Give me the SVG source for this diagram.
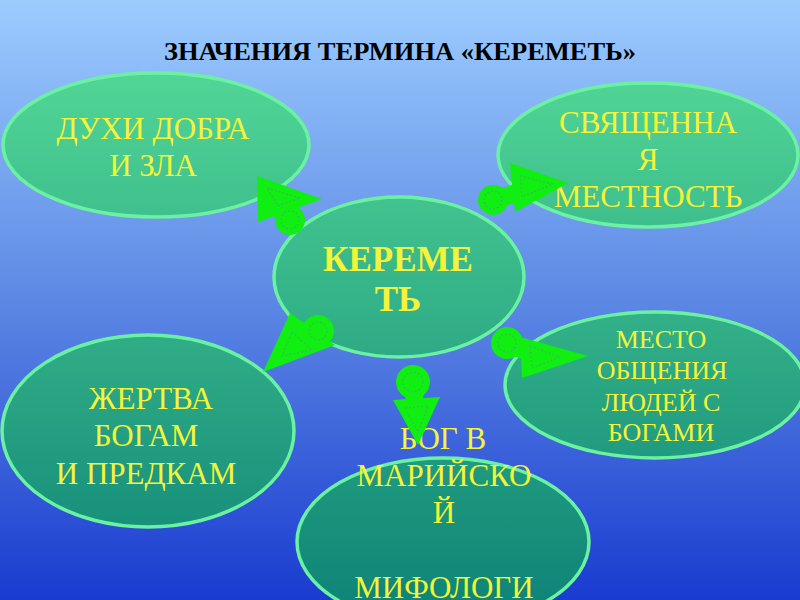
<svg xmlns="http://www.w3.org/2000/svg" width="800" height="600" viewBox="0 0 800 600">
<defs>
<linearGradient id="bg" x1="0" y1="0" x2="0" y2="1">
<stop offset="0" stop-color="#9CCCFE"/>
<stop offset="0.5" stop-color="#5C88E4"/>
<stop offset="1" stop-color="#1A3BD0"/>
</linearGradient>
<linearGradient id="eg" gradientUnits="userSpaceOnUse" x1="0" y1="70" x2="0" y2="620">
<stop offset="0" stop-color="#52D696"/>
<stop offset="1" stop-color="#0C8276"/>
</linearGradient>
<style>
.node ellipse{fill:url(#eg);stroke:#6AF2A2;stroke-width:3.5}
.t{font-family:"Liberation Serif","Times New Roman",serif;fill:#F4F43A;text-anchor:middle}
.title{font-family:"Liberation Serif","Times New Roman",serif;font-weight:bold;fill:#000;text-anchor:middle}
.pin{fill:#11EE11}
.neck{stroke:#11EE11;stroke-width:18;stroke-linecap:round}
.dash{fill:none;stroke:#30C050;stroke-width:1.2;stroke-dasharray:2 2}
</style>
</defs>
<rect width="800" height="600" fill="url(#bg)"/>
<text class="title" x="400" y="60" font-size="25" textLength="472" lengthAdjust="spacingAndGlyphs">ЗНАЧЕНИЯ ТЕРМИНА «КЕРЕМЕТЬ»</text>

<g id="node-dukhi" class="node">
<ellipse cx="156" cy="145" rx="153" ry="72"/>
<text class="t" font-size="31" x="153" y="139">ДУХИ ДОБРА</text>
<text class="t" font-size="31" x="153" y="176">И ЗЛА</text>
</g>
<g id="node-svyash" class="node">
<ellipse cx="648" cy="155" rx="150" ry="72"/>
<text class="t" font-size="31" x="648" y="133">СВЯЩЕННА</text>
<text class="t" font-size="31" x="648" y="170">Я</text>
<text class="t" font-size="31" x="648" y="207">МЕСТНОСТЬ</text>
</g>
<g id="node-keremet" class="node">
<ellipse cx="399" cy="277" rx="125" ry="80"/>
<text class="t" font-size="35" font-weight="bold" x="398" y="271">КЕРЕМЕ</text>
<text class="t" font-size="35" font-weight="bold" x="398" y="311">ТЬ</text>
</g>
<g id="node-zhertva" class="node">
<ellipse cx="148" cy="431" rx="146" ry="96"/>
<text class="t" font-size="31" x="151" y="409">ЖЕРТВА</text>
<text class="t" font-size="31" x="146" y="446">БОГАМ</text>
<text class="t" font-size="31" x="146" y="484">И ПРЕДКАМ</text>
</g>
<g id="node-mesto" class="node">
<ellipse cx="655" cy="385" rx="150" ry="73"/>
<text class="t" font-size="26" x="661" y="348">МЕСТО</text>
<text class="t" font-size="26" x="662" y="379">ОБЩЕНИЯ</text>
<text class="t" font-size="26" x="661" y="411">ЛЮДЕЙ С</text>
<text class="t" font-size="26" x="661" y="441">БОГАМИ</text>
</g>
<g id="node-bog" class="node">
<ellipse cx="443" cy="542" rx="146" ry="84"/>
<text class="t" font-size="31" x="443" y="449">БОГ В</text>
<text class="t" font-size="31" x="444" y="486">МАРИЙСКО</text>
<text class="t" font-size="31" x="444" y="523">Й</text>
<text class="t" font-size="31" x="444" y="598">МИФОЛОГИ</text>
</g>

<g id="connectors">
<g id="c1">
<line class="neck" x1="290" y1="220" x2="274" y2="203"/>
<polygon class="pin" points="257,176 322,199 258,222"/>
<circle class="pin" cx="290" cy="220" r="15"/>
<polygon class="dash" points="267,188 300,198 278,206"/>
<circle class="dash" cx="290" cy="220" r="9"/>
</g>
<g id="c2">
<line class="neck" x1="493" y1="200" x2="520" y2="192"/>
<polygon class="pin" points="510,163 568,183 515,212"/>
<circle class="pin" cx="493" cy="200" r="15"/>
<polygon class="dash" points="520,176 553,184 522,197"/>
<circle class="dash" cx="493" cy="200" r="9"/>
</g>
<g id="c3">
<line class="neck" x1="318" y1="331" x2="303" y2="340"/>
<polygon class="pin" points="290,313 335,345 263,372"/>
<circle class="pin" cx="318" cy="331" r="16"/>
<polygon class="dash" points="292,332 312,350 282,356"/>
<circle class="dash" cx="318" cy="331" r="9"/>
</g>
<g id="c4">
<line class="neck" x1="507" y1="343" x2="530" y2="353"/>
<polygon class="pin" points="520,337 588,356 522,378"/>
<circle class="pin" cx="507" cy="343" r="16"/>
<polygon class="dash" points="530,346 560,357 532,368"/>
<circle class="dash" cx="507" cy="343" r="9"/>
</g>
<g id="c5">
<line class="neck" x1="413" y1="382" x2="415" y2="405"/>
<polygon class="pin" points="393,400 440,397 418,445"/>
<circle class="pin" cx="413" cy="382" r="17"/>
<polygon class="dash" points="405,408 428,406 418,432"/>
<circle class="dash" cx="413" cy="382" r="10"/>
</g>
</g>
</svg>
